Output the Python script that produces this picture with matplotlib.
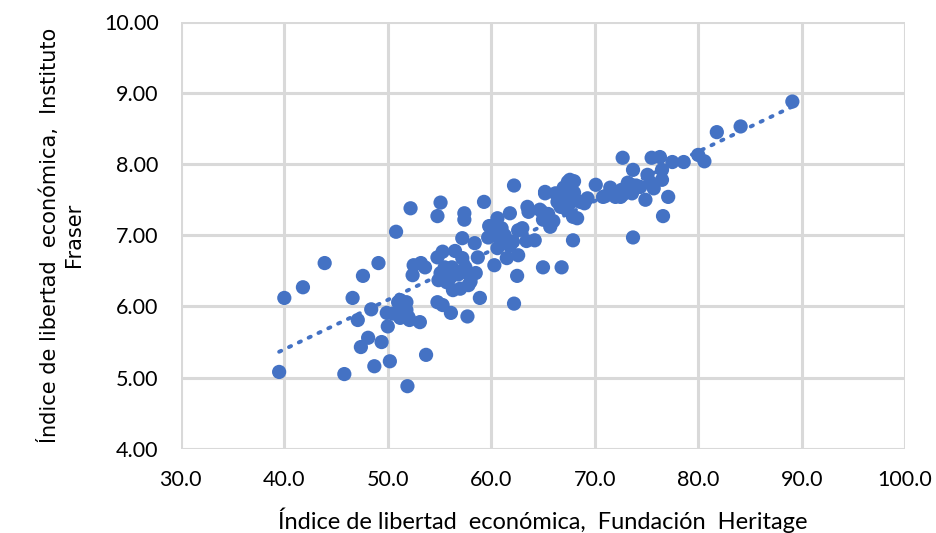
import numpy as np
import matplotlib
matplotlib.use('Agg')
from matplotlib import pyplot as plt

# Heritage index (x) vs Fraser index (y)
heritage = [39.5, 40.0, 41.8, 43.9, 45.8, 46.6, 47.1, 47.4, 47.6, 48.1,
            48.4, 48.7, 49.1, 49.4, 50.0, 50.2, 49.9, 50.8, 51.0, 51.2,
            51.2, 51.8, 51.9, 52.1, 51.8, 52.2, 52.4, 52.5, 53.2, 53.1,
            53.6, 53.7, 54.8, 54.8, 55.1, 55.3, 54.8, 55.3, 55.1, 54.9,
            55.7, 56.1, 56.2, 56.3, 56.5, 57.2, 57.4, 57.4, 57.2, 57.7,
            57.8, 57.7, 58.4, 58.5, 58.7, 58.9, 59.3, 59.7, 59.9, 60.3,
            60.6, 60.6, 61.0, 61.5, 61.8, 62.1, 62.2, 62.2, 62.6, 62.6,
            62.5, 63.4, 63.5, 63.6, 64.2, 64.9, 65.0, 64.7, 65.2, 65.2,
            65.0, 65.7, 66.2, 66.4, 66.7, 66.8, 67.0, 67.0, 67.3, 67.6,
            67.4, 67.6, 67.9, 67.9, 68.0, 68.3, 68.6, 69.3, 70.1, 70.8,
            71.5, 72.0, 72.6, 72.5, 72.7, 72.7, 73.2, 73.5, 73.6, 73.7,
            73.7, 74.4, 74.9, 75.1, 75.4, 75.5, 75.7, 76.3, 76.5, 76.5,
            76.6, 77.1, 77.5, 78.6, 80.0, 80.6, 81.8, 84.1, 89.1,
            60.0, 59.8, 61.3, 61.8, 56.0, 56.8, 55.5, 57.0, 50.5,
            51.5, 52.0, 65.5, 66.0, 68.0, 69.0, 71.0, 74.0, 57.5, 58.0,
            60.8, 63.0]
fraser = [5.08, 6.12, 6.27, 6.61, 5.05, 6.12, 5.81, 5.43, 6.43, 5.56,
          5.96, 5.16, 6.61, 5.50, 5.72, 5.23, 5.91, 7.05, 6.06, 5.84,
          6.09, 5.95, 4.88, 5.81, 6.06, 7.38, 6.44, 6.58, 6.61, 5.78,
          6.55, 5.32, 6.69, 7.27, 7.46, 6.77, 6.06, 6.02, 6.47, 6.37,
          6.34, 5.91, 6.55, 6.23, 6.78, 6.68, 7.31, 7.22, 6.96, 6.47,
          6.30, 5.86, 6.89, 6.47, 6.69, 6.12, 7.47, 6.97, 7.12, 6.58,
          7.24, 6.82, 7.10, 6.68, 7.31, 6.91, 7.70, 6.04, 7.07, 6.72,
          6.43, 6.92, 7.40, 7.33, 6.93, 7.33, 7.22, 7.36, 7.59, 7.61,
          6.55, 7.12, 7.59, 7.47, 7.40, 6.55, 7.67, 7.50, 7.36, 7.78,
          7.75, 7.45, 7.26, 6.93, 7.76, 7.24, 7.47, 7.52, 7.71, 7.54,
          7.67, 7.54, 7.64, 7.54, 7.57, 8.09, 7.74, 7.71, 7.59, 7.92,
          6.97, 7.68, 7.50, 7.85, 7.74, 8.09, 7.66, 8.10, 7.92, 7.78,
          7.27, 7.54, 8.03, 8.03, 8.13, 8.04, 8.45, 8.53, 8.88,
          7.00, 7.13, 7.00, 6.85, 6.40, 6.45, 6.55, 6.25, 5.90,
          5.95, 5.85, 7.30, 7.20, 7.60, 7.45, 7.55, 7.70, 6.55, 6.35,
          6.95, 7.10]

x_ticks = [30, 40, 50, 60, 70, 80, 90, 100]
y_ticks = [4, 5, 6, 7, 8, 9, 10]

blue = '#4472C4'

fig = plt.figure(figsize=(9.37, 5.33), dpi=100)
ax = fig.add_axes([0.193, 0.158, 0.773, 0.801])

ax.scatter(heritage, fraser, s=105, color=blue, edgecolors='none', zorder=3)

# linear trend line
xs = np.array(heritage)
coef = np.polyfit(xs, fraser, 1)
tx = np.array([xs.min(), xs.max()])
ax.plot(tx, np.polyval(coef, tx), linestyle=(0, (0.6, 2.2)), linewidth=2.8,
        color=blue, dash_capstyle='round', zorder=4)

ax.set_xlim(30, 100)
ax.set_ylim(4, 10)
ax.set_xticks(x_ticks)
ax.set_yticks(y_ticks)
ax.set_xticklabels(['%.1f' % v for v in x_ticks], fontsize=15.5, family='Lato')
ax.set_yticklabels(['%.2f' % v for v in y_ticks], fontsize=15.5, family='Lato')
ax.tick_params(axis='x', length=0, pad=15)
ax.tick_params(axis='y', length=0, pad=16)

ax.grid(True, color='#d9d9d9', linewidth=2.2)
ax.set_axisbelow(True)
for s in ax.spines.values():
    s.set_visible(False)

ax.set_xlabel('Índice de libertad  económica,  Fundación  Heritage',
              fontsize=17, family='Lato', labelpad=13)
ax.set_ylabel('Índice de libertad  económica,  Instituto\nFraser',
              fontsize=15, family='DejaVu Sans', labelpad=14, linespacing=1.25)

fig.savefig('out.png', dpi=100)
